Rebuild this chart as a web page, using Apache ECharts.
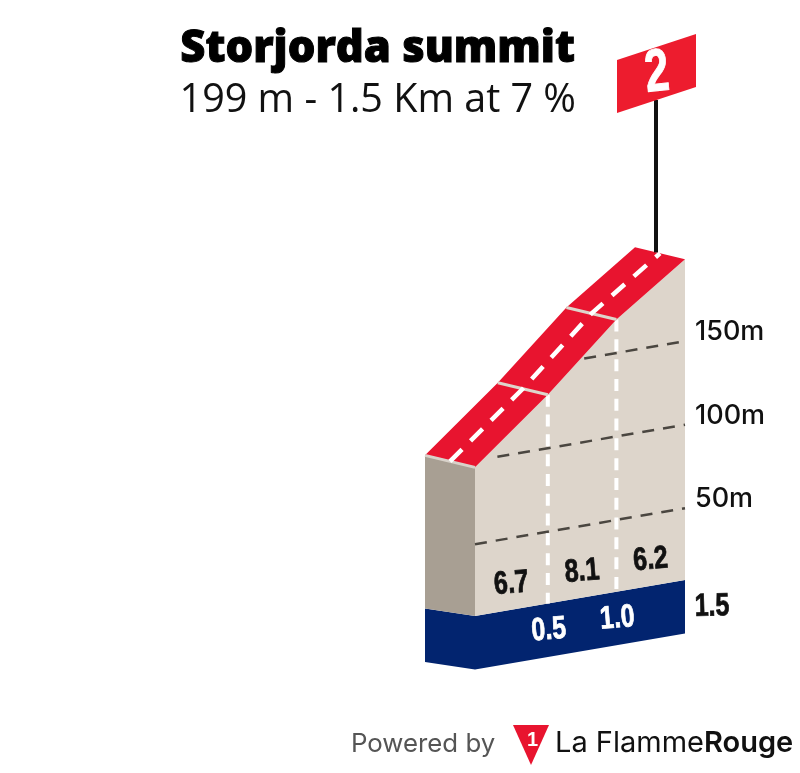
<!DOCTYPE html>
<html>
<head>
<meta charset="utf-8">
<style>
  html, body { margin: 0; padding: 0; background: #fff; }
  #myChart { width: 800px; height: 773px; }
</style>
<script src="https://cdn.jsdelivr.net/npm/echarts@6/dist/echarts.min.js"></script>
</head>
<body>
<div id="myChart"></div>
<script>
// profile
var kmPos = [0, 0.52, 1.01, 1.5];
var altitudes = [96, 132, 170, 199];
var gradients = ["6.7", "8.1", "6.2"];
var gradientKm = [0.26, 0.765, 1.255];
var kmLabels = ["0.5", "1.0", "1.5"];
var altTicks = [50, 100, 150];
var altTickStartKm = [0, 0.16, 0.78];
var baseAlt = 7;
var skew = 14.37; // ground rises to the right, metres per km
var catNumber = "2";
var title = "Storjorda summit";
var subtitle = "199 m - 1.5 Km at 7 %";

var condensed = '"Liberation Sans", sans-serif';

// km + altitude -> pixel, depth goes from the front of the road to the back
function pt(api, km, alt, depth, dy) {
  var c = api.coord([km, alt + skew * km]);
  return [c[0] - 50 * (depth || 0), c[1] - (dy || 0) * (depth || 0)];
}

function line(p1, p2, stroke, width, dash) {
  return {
    type: "line",
    shape: { x1: p1[0], y1: p1[1], x2: p2[0], y2: p2[1] },
    style: { stroke: stroke, lineWidth: width, lineDash: dash || null, fill: null }
  };
}

function label(text, p, font, fill, align, rot, sx, heavy) {
  return {
    type: "text",
    x: p[0],
    y: p[1],
    rotation: rot || 0,
    scaleX: sx || 1,
    style: {
      text: text, font: font, fill: fill, align: align || "center", verticalAlign: "middle",
      stroke: heavy ? fill : null, lineWidth: heavy || 0
    }
  };
}

function renderProfile(params, api) {
  if (params.dataIndex !== 0) return;
  var last = kmPos.length - 1;
  var kids = [];
  var roadDy = 12, baseDy = 7.5, bandH = 32;

  // blue band
  var bandAlt = baseAlt - bandH;
  kids.push({
    type: "polygon",
    shape: { points: [
      pt(api, 0, baseAlt, 1, baseDy), pt(api, 0, baseAlt), pt(api, 1.5, baseAlt),
      pt(api, 1.5, bandAlt), pt(api, 0, bandAlt), pt(api, 0, bandAlt, 1, baseDy)
    ] },
    style: { fill: "#02246f" }
  });

  // start side of the block
  kids.push({
    type: "polygon",
    shape: { points: [
      pt(api, 0, altitudes[0], 1, roadDy), pt(api, 0, altitudes[0]),
      pt(api, 0, baseAlt), pt(api, 0, baseAlt, 1, baseDy)
    ] },
    style: { fill: "#a89f93" }
  });

  // front wall
  var wall = [pt(api, 0, baseAlt)];
  kmPos.forEach(function (k, i) { wall.push(pt(api, k, altitudes[i])); });
  wall.push(pt(api, 1.5, baseAlt));
  kids.push({ type: "polygon", shape: { points: wall }, style: { fill: "#ddd5cb" } });

  // altitude lines
  altTicks.forEach(function (a, i) {
    kids.push(line(pt(api, altTickStartKm[i], a), pt(api, 1.5, a), "#4a4640", 2.5, [12, 9]));
    var end = pt(api, 1.5, a);
    kids.push(label(a + "m", [end[0] + 10, end[1] - 9], '500 27px Inter, sans-serif', "#111", "left"));
  });

  // km dividers on the wall
  for (var i = 1; i < last; i++) {
    kids.push(line(pt(api, kmPos[i], altitudes[i]), pt(api, kmPos[i], baseAlt), "#fff", 4, [12, 7.8]));
  }

  // road
  var road = [];
  kmPos.forEach(function (k, i) { road.push(pt(api, k, altitudes[i])); });
  for (var j = last; j >= 0; j--) road.push(pt(api, kmPos[j], altitudes[j], 1, roadDy));
  kids.push({ type: "polygon", shape: { points: road }, style: { fill: "#e8142f" } });
  kids.push(line(pt(api, 0, altitudes[0]), pt(api, 0, altitudes[0], 1, roadDy), "#d8d2ca", 3));
  for (var n = 1; n < last; n++) {
    kids.push(line(pt(api, kmPos[n], altitudes[n]), pt(api, kmPos[n], altitudes[n], 1, roadDy), "#ddd5cb", 3));
  }

  // road centre line
  var centre = [];
  kmPos.forEach(function (k, i) { centre.push(pt(api, k, altitudes[i], 0.5, roadDy)); });
  kids.push({
    type: "polyline",
    shape: { points: centre },
    style: { stroke: "#fff", lineWidth: 4.5, lineDash: [17, 12], fill: null }
  });

  // gradients and km numbers
  gradients.forEach(function (g, i) {
    var p = api.coord([gradientKm[i], baseAlt + skew * gradientKm[i] + 15.5]);
    kids.push(label(g, p, 'bold 32px ' + condensed, "#111", "center", 0.08, 0.78, 0.8));
  });
  kmLabels.forEach(function (t, i) {
    var p = pt(api, kmPos[i + 1], baseAlt - 16);
    if (i === last - 1) {
      kids.push(label(t, [p[0] + 27, p[1]], 'bold 32px ' + condensed, "#111", "center", 0.03, 0.78, 0.8));
    } else {
      kids.push(label(t, [p[0] + 1, p[1]], 'bold 32px ' + condensed, "#fff", "center", 0.08, 0.78, 0.8));
    }
  });

  // summit flag
  var foot = pt(api, 1.5, altitudes[last], 0.58, roadDy);
  kids.push(line([foot[0], foot[1]], [foot[0], 100], "#111", 4));
  var fx = foot[0], top = 47;
  kids.push({
    type: "polygon",
    shape: { points: [[fx - 39, top + 13], [fx + 40, top - 13], [fx + 40, top + 40], [fx - 39, top + 66]] },
    style: { fill: "#ed1c2e" }
  });
  kids.push(label(catNumber, [fx + 1, 74], 'bold 60px ' + condensed, "#fff", "center", 0.1, 0.72, 1));

  return { type: "group", children: kids };
}

var myChart = echarts.init(document.getElementById("myChart"));
myChart.setOption({
  animation: false,
  backgroundColor: "#fff",
  title: [
    {
      text: title,
      right: 219,
      top: 23,
      textStyle: {
        fontFamily: '"Open Sans"', fontWeight: 800, fontSize: 43.5, color: "#000",
        textBorderColor: "#000", textBorderWidth: 1
      }
    },
    {
      text: subtitle,
      right: 219,
      top: 76,
      textStyle: { fontFamily: '"Open Sans"', fontWeight: 400, fontSize: 39.5, color: "#111" }
    }
  ],
  grid: { left: 475, right: 115, top: 115, bottom: 157 },
  xAxis: { type: "value", min: 0, max: 1.5, show: false },
  yAxis: { type: "value", min: baseAlt, max: baseAlt + 300, show: false },
  series: [
    {
      type: "custom",
      clip: false,
      silent: true,
      data: kmPos.map(function (k, i) { return [k, altitudes[i]]; }),
      renderItem: renderProfile
    }
  ],
  graphic: [
    {
      type: "text", left: 351, top: 731,
      style: { text: "Powered by", font: '400 25.8px Inter, sans-serif', fill: "#555" }
    },
    {
      type: "polygon",
      shape: { points: [[513, 725], [549, 725], [531, 765]] },
      style: { fill: "#e8142f" }
    },
    {
      type: "text", left: 527, top: 730,
      style: { text: "1", font: 'bold 20px ' + condensed, fill: "#fff" }
    },
    {
      type: "text", left: 555, top: 729,
      style: { text: "La Flamme", font: '400 29px Inter, sans-serif', fill: "#111" }
    },
    {
      type: "text", left: 704, top: 729,
      style: { text: "Rouge", font: '600 29px Inter, sans-serif', fill: "#111" }
    }
  ]
});
</script>
</body>
</html>
